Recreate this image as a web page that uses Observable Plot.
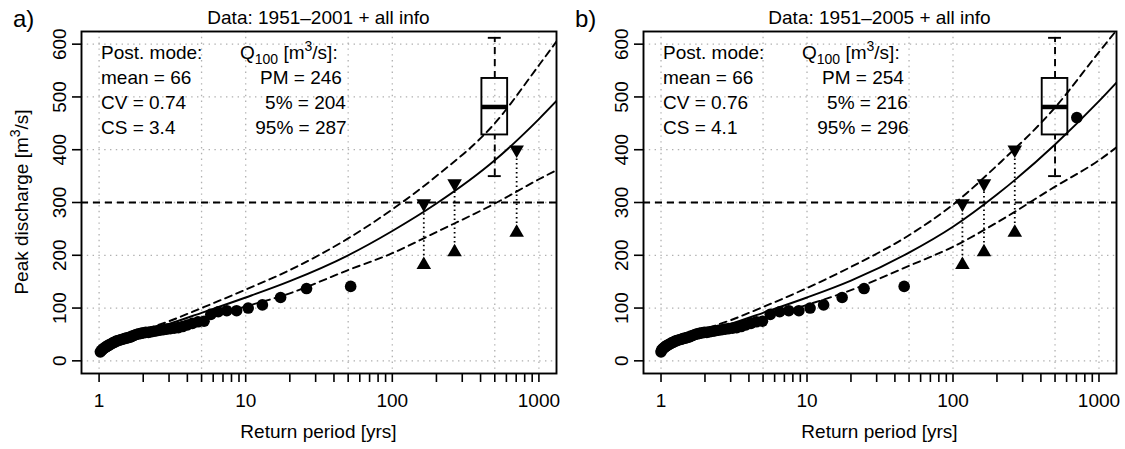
<!DOCTYPE html>
<html><head><meta charset="utf-8">
<script src="https://cdn.jsdelivr.net/npm/d3@7"></script>
<script src="https://cdn.jsdelivr.net/npm/@observablehq/plot@0.6"></script>
<style>
body{margin:0;background:#fff;}
#wrap{display:flex;width:1125px;height:449px;overflow:hidden;}
svg text{font-family:"Liberation Sans",Arial,Helvetica,sans-serif;}
</style></head><body><div id="wrap"></div>
<script>
// ---------- data ----------
// panel a: systematic record 1951–2001 (return period, peak discharge)
const periodA = [52, 26, 17.3, 13, 10.4, 8.67, 7.43, 6.5, 5.78, 5.2, 4.73, 4.33, 4.0, 3.71, 3.47, 3.25, 3.06, 2.89, 2.74, 2.6, 2.48, 2.36, 2.26, 2.17, 2.08, 2.0, 1.93, 1.86, 1.79, 1.73, 1.68, 1.63, 1.58, 1.53, 1.49, 1.44, 1.41, 1.37, 1.33, 1.3, 1.27, 1.24, 1.21, 1.18, 1.16, 1.13, 1.11, 1.08, 1.06, 1.04, 1.02];
const peakA = [141, 137, 120, 106, 100, 95, 95, 93, 88, 75, 74, 71, 68, 65, 63, 62, 61, 60, 59, 58, 57, 56, 55, 54, 54, 53, 52, 51, 50, 48, 47, 45, 44, 43, 42, 41, 40, 39, 38, 37, 35, 34, 32, 31, 29, 28, 26, 24, 22, 20, 17];
// panel b: systematic record 1951–2005
const periodB = [46.3, 24.6, 17.4, 13.0, 10.5, 8.8, 7.5, 6.5, 5.6, 4.95, 4.5, 4.13, 3.81, 3.54, 3.3, 3.09, 2.91, 2.75, 2.61, 2.48, 2.36, 2.25, 2.15, 2.06, 1.98, 1.9, 1.83, 1.77, 1.71, 1.65, 1.6, 1.55, 1.5, 1.46, 1.41, 1.38, 1.34, 1.3, 1.27, 1.24, 1.21, 1.18, 1.15, 1.13, 1.1, 1.08, 1.06, 1.04, 1.02, 1.01, 1.0];
const peakB = [141, 137, 120, 106, 100, 95, 95, 93, 88, 75, 74, 71, 68, 65, 63, 62, 61, 60, 59, 58, 57, 56, 55, 54, 54, 53, 52, 51, 50, 48, 47, 45, 44, 43, 42, 41, 40, 39, 38, 37, 35, 34, 32, 31, 29, 28, 26, 24, 22, 20, 17];
const flood2005Period = [705];
const flood2005Peak = [461];

// historical floods: interval [lower, upper]
const histPeriodA = [164, 266, 705];
const histPeriodB = [116, 163, 265];
const histLower = [182, 206, 243];
const histUpper = [298, 336, 400];

// fitted quantile curves
const curvePeriod = [1.05, 1.5, 2, 3, 5, 10, 20, 50, 100, 200, 500, 1000, 1400];
const modeA = [20, 42, 56, 70, 91, 120, 151, 200, 246, 298, 380, 458, 500];
const lowA  = [22, 40, 50, 62, 80, 103, 128, 172, 204, 244, 298, 344, 365];
const highA = [28, 45, 58, 75, 100, 135, 172, 232, 287, 350, 450, 560, 615];
const modeB = [20, 42, 56, 70, 91, 120, 152, 205, 254, 315, 410, 492, 535];
const lowB  = [22, 40, 51, 63, 82, 106, 134, 180, 216, 262, 330, 380, 410];
const highB = [28, 46, 60, 77, 102, 138, 178, 238, 296, 370, 480, 585, 635];

// box plot of Q500 (min, q1, median, q3, max)
const boxPeriod = 500;
const boxStats = [350, 428, 481, 535, 612];

const threshold = 300;
const xTicks = [1,2,3,4,5,6,7,8,9,10,20,30,40,50,60,70,80,90,100,200,300,400,500,600,700,800,900,1000];
const xLabels = [1, 10, 100, 1000];
const yTicks = [0, 100, 200, 300, 400, 500, 600];
const gridT = [1, 5, 10, 50, 100, 500, 1000];
const gridQ = [0, 100, 200, 300, 400, 500, 600];

const titles = ["Data: 1951\u20132001 + all info", "Data: 1951\u20132005 + all info"];
const tags = ["a)", "b)"];
const postMode = [["mean = 66", "CV = 0.74", "CS = 3.4"], ["mean = 66", "CV = 0.76", "CS = 4.1"]];
const q100 = [["PM = 246", "5% = 204", "95% = 287"], ["PM = 254", "5% = 216", "95% = 296"]];

// ---------- drawing ----------
const FONT = "Liberation Sans, Arial, Helvetica, sans-serif";
const DASH = "7,5";
const boxW = 1.224, capW = 1.107;

function panel(p) {
  const pts = p.period.map((t, i) => ({T: t, Q: p.peak[i]}));
  const curve = curvePeriod.map((t, i) => ({T: t, pm: p.mode[i], lo: p.low[i], hi: p.high[i]}));
  const hist = p.histPeriod.map((t, i) => ({T: t, lo: histLower[i], hi: histUpper[i]}));
  const box = {T: boxPeriod, min: boxStats[0], q1: boxStats[1], med: boxStats[2], q3: boxStats[3], max: boxStats[4]};
  const extra = p.extraT.map((t, i) => ({T: t, Q: p.extraQ[i]}));
  const line = {stroke: "black", strokeWidth: 1.9};
  const chart = Plot.plot({
    width: p.width, height: 449,
    marginLeft: 81, marginRight: p.marginRight, marginTop: 31, marginBottom: 76,
    style: {fontFamily: FONT, fontSize: "19px", color: "black", background: "white", overflow: "visible"},
    x: {type: "log", domain: [Math.pow(10, -0.12), Math.pow(10, 3.12)]},
    y: {domain: [-24, 624]},
    marks: [
      Plot.ruleX(gridT, {stroke: "#b0b0b0", strokeWidth: 1.3, strokeDasharray: "1.4,4.4"}),
      Plot.ruleY(gridQ, {stroke: "#b0b0b0", strokeWidth: 1.3, strokeDasharray: "1.4,4.4"}),
      Plot.ruleY([threshold], {...line, strokeDasharray: DASH}),
      Plot.line(curve, {x: "T", y: "hi", curve: "monotone-x", ...line, strokeDasharray: DASH, clip: true}),
      Plot.line(curve, {x: "T", y: "lo", curve: "monotone-x", ...line, strokeDasharray: DASH, clip: true}),
      Plot.line(curve, {x: "T", y: "pm", curve: "monotone-x", ...line, clip: true}),
      Plot.dot(pts, {x: "T", y: "Q", r: 5.8, fill: "black"}),
      Plot.dot(extra, {x: "T", y: "Q", r: 5.8, fill: "black"}),
      Plot.ruleX(hist, {x: "T", y1: "lo", y2: "hi", stroke: "black", strokeWidth: 1.8, strokeDasharray: "1.5,3"}),
      Plot.dot(hist, {x: "T", y: "hi", symbol: "triangle", rotate: 180, r: 5.4, fill: "black"}),
      Plot.dot(hist, {x: "T", y: "lo", symbol: "triangle", r: 5.4, fill: "black"}),
      Plot.ruleX([box], {x: "T", y1: "min", y2: "q1", ...line, strokeDasharray: DASH}),
      Plot.ruleX([box], {x: "T", y1: "q3", y2: "max", ...line, strokeDasharray: DASH}),
      Plot.ruleY([box], {y: "min", x1: d => d.T / capW, x2: d => d.T * capW, ...line}),
      Plot.ruleY([box], {y: "max", x1: d => d.T / capW, x2: d => d.T * capW, ...line}),
      Plot.rect([box], {x1: d => d.T / boxW, x2: d => d.T * boxW, y1: "q1", y2: "q3", fill: "none", ...line}),
      Plot.ruleY([box], {y: "med", x1: d => d.T / boxW, x2: d => d.T * boxW, stroke: "black", strokeWidth: 4.5}),
      Plot.frame({stroke: "black", strokeWidth: 1.9}),
      Plot.axisX({ticks: xTicks, tickFormat: d => xLabels.includes(d) ? String(d) : "", tickSize: 9, tickPadding: 11, strokeWidth: 1.6, label: null}),
      Plot.axisY({ticks: yTicks, tickFormat: () => "", tickSize: 9, strokeWidth: 1.6, label: null}),
      Plot.text(yTicks, {y: d => d, text: d => String(d), frameAnchor: "left", dx: -22, rotate: -90, textAnchor: "middle", lineAnchor: "middle"})
    ]
  });
  const svg = d3.select(chart);
  const F = 81;
  const fr = p.width - p.marginRight;
  const cx = (F + fr) / 2;
  const txt = (x, y, s, anchor = "start", size = 19) =>
    svg.append("text").attr("x", x).attr("y", y).attr("text-anchor", anchor)
      .attr("font-size", size).attr("fill", "black").attr("font-family", FONT).text(s);
  txt(cx, 24, p.title, "middle");
  txt(13, 27, p.tag, "start", 24);
  txt(cx, 438, "Return period [yrs]", "middle");
  // posterior mode block
  const base = [59, 84, 109, 133.5];
  txt(F + 20, base[0], "Post. mode:");
  p.post.forEach((s, i) => txt(F + 20, base[i + 1], s));
  // Q100 header
  const h = svg.append("text").attr("x", F + 159).attr("y", base[0]).attr("text-anchor", "start")
    .attr("font-size", 19).attr("font-family", FONT).attr("fill", "black");
  h.append("tspan").text("Q");
  h.append("tspan").attr("font-size", 14).attr("dy", 5).text("100");
  h.append("tspan").attr("dy", -5).text(" [m");
  h.append("tspan").attr("font-size", 14).attr("dy", -8).text("3");
  h.append("tspan").attr("dy", 8).text("/s]:");
  const qx = [F + 220, F + 224.5, F + 220];
  p.q.forEach((s, i) => txt(qx[i], base[i + 1], s, "middle"));
  if (p.yLabel) {
    const y = svg.append("text").attr("transform", `translate(28,${(31 + 373) / 2}) rotate(-90)`)
      .attr("text-anchor", "middle").attr("font-size", 19).attr("font-family", FONT).attr("fill", "black");
    y.append("tspan").text("Peak discharge [m");
    y.append("tspan").attr("font-size", 14).attr("dy", -8).text("3");
    y.append("tspan").attr("dy", 8).text("/s]");
  }
  return chart;
}

const wrap = document.getElementById("wrap");
wrap.appendChild(panel({width: 562, marginRight: 6, period: periodA, peak: peakA, extraT: [], extraQ: [],
  histPeriod: histPeriodA, mode: modeA, low: lowA, high: highA, title: titles[0], tag: tags[0],
  post: postMode[0], q: q100[0], yLabel: true}));
wrap.appendChild(panel({width: 563, marginRight: 9, period: periodB, peak: peakB, extraT: flood2005Period, extraQ: flood2005Peak,
  histPeriod: histPeriodB, mode: modeB, low: lowB, high: highB, title: titles[1], tag: tags[1],
  post: postMode[1], q: q100[1], yLabel: false}));
</script></body></html>
